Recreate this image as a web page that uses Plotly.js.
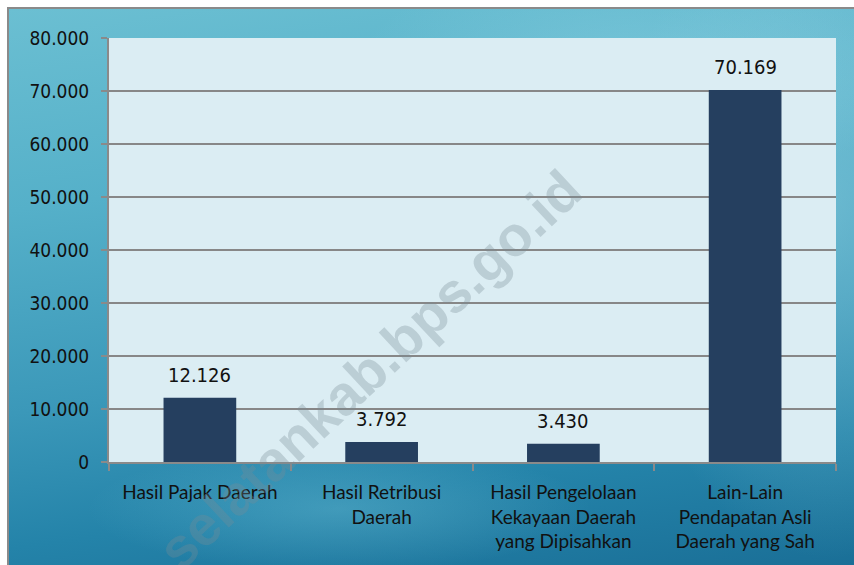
<!DOCTYPE html>
<html>
<head>
<meta charset="utf-8">
<script src="https://cdn.plot.ly/plotly-3.0.1.min.js"></script>
<style>
  html, body { margin:0; padding:0; background:#ffffff; }
  #wrap { position:relative; width:854px; height:565px; overflow:hidden; }
  #bg { position:absolute; left:7px; top:7px; width:847px; height:558px;
        border-left:2px solid #8a8a8a; border-top:2px solid #8a8a8a; box-sizing:border-box;
        background:
          radial-gradient(ellipse 420px 160px at 640px 60px, rgba(150,215,230,0.45), rgba(150,215,230,0) 70%),
          radial-gradient(ellipse 300px 500px at 820px 200px, rgba(140,205,222,0.5), rgba(140,205,222,0) 70%),
          radial-gradient(ellipse 360px 90px at 330px 500px, rgba(120,200,220,0.35), rgba(120,200,220,0) 70%),
          linear-gradient(172deg, #6bbfd2 0%, #55b0c9 30%, #3b98b9 60%, #2483a9 80%, #1a6f97 100%); }
  #chart { position:absolute; left:0; top:0; width:854px; height:565px; }
</style>
</head>
<body>
<div id="wrap">
  <div id="bg"></div>
  <div id="chart"></div>
</div>
<script>
const categories = [
  "Hasil Pajak Daerah",
  "Hasil Retribusi<br>Daerah",
  "Hasil Pengelolaan<br>Kekayaan Daerah<br>yang Dipisahkan",
  "Lain-Lain<br>Pendapatan Asli<br>Daerah yang Sah"
];
const values = [12126, 3792, 3430, 70169];
const yTickVals = [0, 10000, 20000, 30000, 40000, 50000, 60000, 70000, 80000];
const watermarkText = "selatankab.bps.go.id";

function fmt(v) {
  return String(v).replace(/\B(?=(\d{3})+(?!\d))/g, ".");
}

const numFont = "DejaVu Sans Condensed, DejaVu Sans, sans-serif";
const catFont = "Lato, Open Sans, sans-serif";

const trace = {
  type: "bar",
  x: categories,
  y: values,
  width: 0.4,
  marker: { color: "#253f5f" },
  hoverinfo: "none"
};

const annotations = values.map((v, i) => ({
  x: categories[i], y: v, xref: "x", yref: "y",
  text: fmt(v), showarrow: false, yanchor: "bottom", yshift: 9,
  font: { family: numFont, size: 20, color: "#111111" }
}));
annotations.push({
  xref: "paper", yref: "paper", x: 0.359, y: 0.217,
  xanchor: "center", yanchor: "middle",
  text: "<b>" + watermarkText + "</b>", showarrow: false,
  textangle: -43,
  font: { family: "Liberation Sans, Arial, sans-serif", size: 56, color: "rgba(120,140,150,0.32)" }
});

const layout = {
  width: 854, height: 565,
  margin: { l: 109, r: 18, t: 38, b: 103 },
  paper_bgcolor: "rgba(0,0,0,0)",
  plot_bgcolor: "#dbedf3",
  separators: ",.",
  showlegend: false,
  xaxis: {
    type: "category",
    tickson: "boundaries",
    ticks: "outside", ticklen: 7, tickwidth: 2, tickcolor: "#8a8a8a",
    showline: true, linecolor: "#8a8a8a", linewidth: 2,
    showgrid: false,
    ticklabelstandoff: 12,
    tickfont: { family: catFont, size: 19, color: "#111111" },
    fixedrange: true
  },
  yaxis: {
    range: [0, 80000],
    tickvals: yTickVals,
    ticktext: yTickVals.map(fmt),
    ticks: "outside", ticklen: 6, tickwidth: 2, tickcolor: "#8a8a8a",
    showline: true, linecolor: "#8a8a8a", linewidth: 2,
    showgrid: true, gridcolor: "#878787", gridwidth: 2,
    zeroline: false,
    ticklabelstandoff: 8,
    tickfont: { family: numFont, size: 19, color: "#111111" },
    fixedrange: true
  },
  annotations: annotations
};

Plotly.newPlot("chart", [trace], layout, { displayModeBar: false, staticPlot: true });
</script>
</body>
</html>
